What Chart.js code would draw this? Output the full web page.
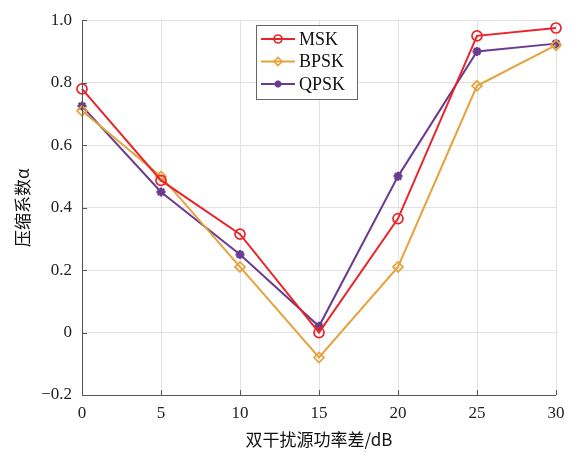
<!DOCTYPE html>
<html><head><meta charset="utf-8">
<script src="https://cdn.jsdelivr.net/npm/chart.js@4/dist/chart.umd.min.js"></script>
<style>html,body{margin:0;padding:0;background:#fff}#wrap{width:579px;height:458px}</style>
</head><body><div id="wrap"><canvas id="c" width="579" height="458"></canvas></div>
<script>
const xValues = [0, 5, 10, 15, 20, 25, 30];
const mskValues = [0.78, 0.487, 0.315, 0.0, 0.365, 0.95, 0.975];
const bpskValues = [0.71, 0.50, 0.21, -0.08, 0.21, 0.79, 0.92];
const qpskValues = [0.725, 0.45, 0.25, 0.02, 0.50, 0.90, 0.925];
const seriesNames = ['MSK', 'BPSK', 'QPSK'];
const xTitle = '双干扰源功率差/dB';
const yTitle = '压缩系数α';

const serif = "'Liberation Serif','DejaVu Serif',serif";
const cols = ['#e8252b', '#e6a23c', '#6a3b8e'];
const styles = ['circle', 'rectRot', 'star'];

function mk(vals, i) {
  return {
    label: seriesNames[i],
    data: xValues.map((x, k) => ({x: x, y: vals[k]})),
    borderColor: cols[i], backgroundColor: i === 2 ? cols[i] : '#fff',
    pointBorderColor: cols[i],
    pointBackgroundColor: i === 2 ? cols[i] : 'rgba(255,255,255,0)',
    borderWidth: 2, pointStyle: styles[i], clip: false,
    pointRadius: i === 2 ? 4.5 : 5, pointBorderWidth: i === 2 ? 2.5 : 1.7,
    tension: 0
  };
}

const frame = {
  id: 'frame',
  afterDraw(chart) {
    const {ctx, chartArea: a, scales} = chart;
    ctx.save();
    ctx.strokeStyle = '#555'; ctx.lineWidth = 1;
    ctx.beginPath();
    ctx.moveTo(a.left + 0.5, a.top); ctx.lineTo(a.left + 0.5, a.bottom + 0.5);
    ctx.lineTo(a.right, a.bottom + 0.5);
    scales.x.ticks.forEach(t => { const px = Math.round(scales.x.getPixelForValue(t.value)) + 0.5; ctx.moveTo(px, a.bottom); ctx.lineTo(px, a.bottom - 5); });
    scales.y.ticks.forEach(t => { const py = Math.round(scales.y.getPixelForValue(t.value)) + 0.5; ctx.moveTo(a.left, py); ctx.lineTo(a.left + 5, py); });
    ctx.stroke();
    const lx = 256, ly = 25, lw = 101, lh = 74;
    ctx.fillStyle = '#fff'; ctx.fillRect(lx, ly, lw, lh);
    ctx.strokeStyle = '#666'; ctx.lineWidth = 1;
    ctx.strokeRect(lx + 0.5, ly + 0.5, lw, lh);
    ctx.font = '18px ' + serif; ctx.textBaseline = 'middle'; ctx.textAlign = 'left';
    chart.data.datasets.forEach((ds, i) => {
      const y = ly + 14 + i * 22.5;
      ctx.strokeStyle = ds.borderColor; ctx.lineWidth = 2;
      ctx.beginPath(); ctx.moveTo(lx + 5, y); ctx.lineTo(lx + 39, y); ctx.stroke();
      ctx.lineWidth = ds.pointBorderWidth;
      ctx.fillStyle = ds.pointBackgroundColor;
      Chart.helpers.drawPoint(ctx, {pointStyle: ds.pointStyle, radius: i === 2 ? 3.5 : 4, borderWidth: ds.pointBorderWidth, rotation: 0}, lx + 22, y);
      if (i === 2) ctx.fill();
      ctx.fillStyle = '#111';
      ctx.fillText(ds.label, lx + 43, y + 1);
    });
    ctx.restore();
  }
};

new Chart(document.getElementById('c'), {
  type: 'line',
  data: {datasets: [mk(mskValues, 0), mk(bpskValues, 1), mk(qpskValues, 2)]},
  options: {
    responsive: false, animation: false,
    layout: {padding: {left: 8, right: 23, top: 13, bottom: 4}},
    plugins: {legend: {display: false}, tooltip: {enabled: false}},
    scales: {
      x: {
        type: 'linear', min: 0, max: 30,
        afterBuildTicks(s) { s.ticks = xValues.map(v => ({value: v})); },
        grid: {color: '#e2e2e2', drawTicks: false},
        border: {display: false},
        ticks: {color: '#222', font: {family: serif, size: 17}, padding: 8, maxRotation: 0},
        title: {display: true, text: xTitle, color: '#111', font: {family: "'Noto Sans CJK SC','Liberation Serif',serif", size: 17}, padding: {top: 8}},
        afterFit(s) { s.height = 59; }
      },
      y: {
        min: -0.2, max: 1.0,
        ticks: {stepSize: 0.2, color: '#222', font: {family: serif, size: 17}, padding: 10,
          callback: v => { const r = Math.round(v * 10) / 10; return r === 0 ? '0' : (r < 0 ? '−' + Math.abs(r).toFixed(1) : r.toFixed(1)); }},
        grid: {color: '#e2e2e2', drawTicks: false},
        border: {display: false},
        title: {display: true, text: yTitle, color: '#111', font: {family: "'Noto Sans CJK SC','Liberation Serif',serif", size: 17}, padding: {bottom: 4}},
        afterFit(s) { s.width = 74; }
      }
    }
  },
  plugins: [frame]
});
</script></body></html>
